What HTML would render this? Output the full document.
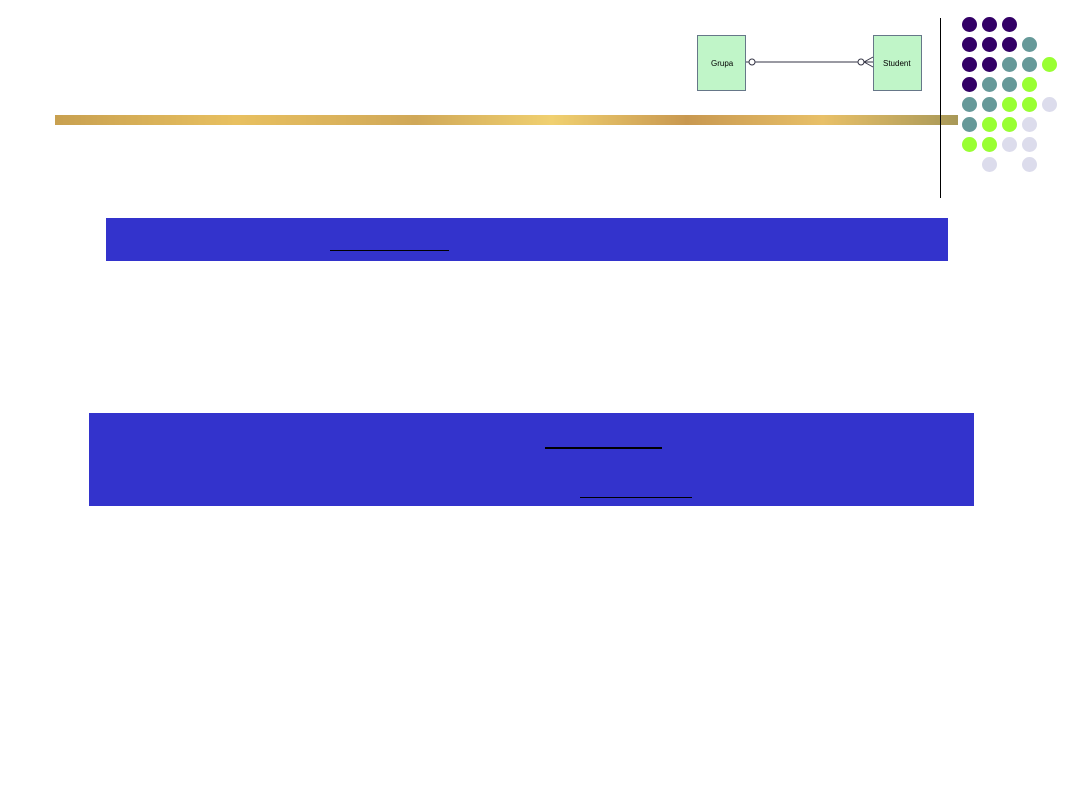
<!DOCTYPE html>
<html><head><style>
body{margin:0;width:1080px;height:810px;background:#fff;position:relative;overflow:hidden;font-family:"Liberation Sans",sans-serif}
.a{position:absolute}
.d{position:absolute;width:15px;height:15px;border-radius:50%}
</style></head><body>
<div class="a" style="left:55px;top:115px;width:903px;height:10px;background:linear-gradient(90deg,#c8a050,#e8c060 20%,#d0a858 40%,#f0d070 55%,#c89850 70%,#e8c068 85%,#a89858);"></div>
<div class="a" style="left:940px;top:18px;width:1px;height:180px;background:#000"></div>
<svg class="a" style="left:690px;top:30px" width="240" height="66">
<rect x="7.5" y="5.5" width="48" height="55" fill="#c0f5c8" stroke="#667788"/>
<rect x="183.5" y="5.5" width="48" height="55" fill="#c0f5c8" stroke="#667788"/>
<text x="21" y="36" font-size="8" font-family="Liberation Sans">Grupa</text>
<text x="193" y="36" font-size="8" font-family="Liberation Sans">Student</text>
<line x1="56" y1="32" x2="183" y2="32" stroke="#334" stroke-width="1"/>
<circle cx="62" cy="32" r="3" fill="#fff" stroke="#334"/>
<circle cx="171" cy="32" r="3" fill="#fff" stroke="#334"/>
<path d="M174 32 L183 27 M174 32 L183 37" stroke="#334" fill="none"/>
</svg>
<div class="a" style="left:106px;top:218px;width:842px;height:43px;background:#3333cc"></div>
<div class="a" style="left:330px;top:250px;width:119px;height:1px;background:#000"></div>
<div class="a" style="left:89px;top:413px;width:885px;height:93px;background:#3333cc"></div>
<div class="a" style="left:545px;top:447px;width:117px;height:2px;background:#000"></div>
<div class="a" style="left:580px;top:497px;width:112px;height:1px;background:#000"></div>
<div id="dots"></div>
<script>
var P="#330066",T="#669999",G="#99ff33",L="#dcdcec",_=null;
var rows=[[P,P,P],[P,P,P,T],[P,P,T,T,G],[P,T,T,G],[T,T,G,G,L],[T,G,G,L],[G,G,L,L],[_,L,_,L]];
var h="";rows.forEach(function(r,i){r.forEach(function(c,j){if(c)h+='<div class="d" style="left:'+(962+j*20)+'px;top:'+(17+i*20)+'px;background:'+c+'"></div>';});});
document.getElementById("dots").innerHTML=h;
</script>
</body></html>
